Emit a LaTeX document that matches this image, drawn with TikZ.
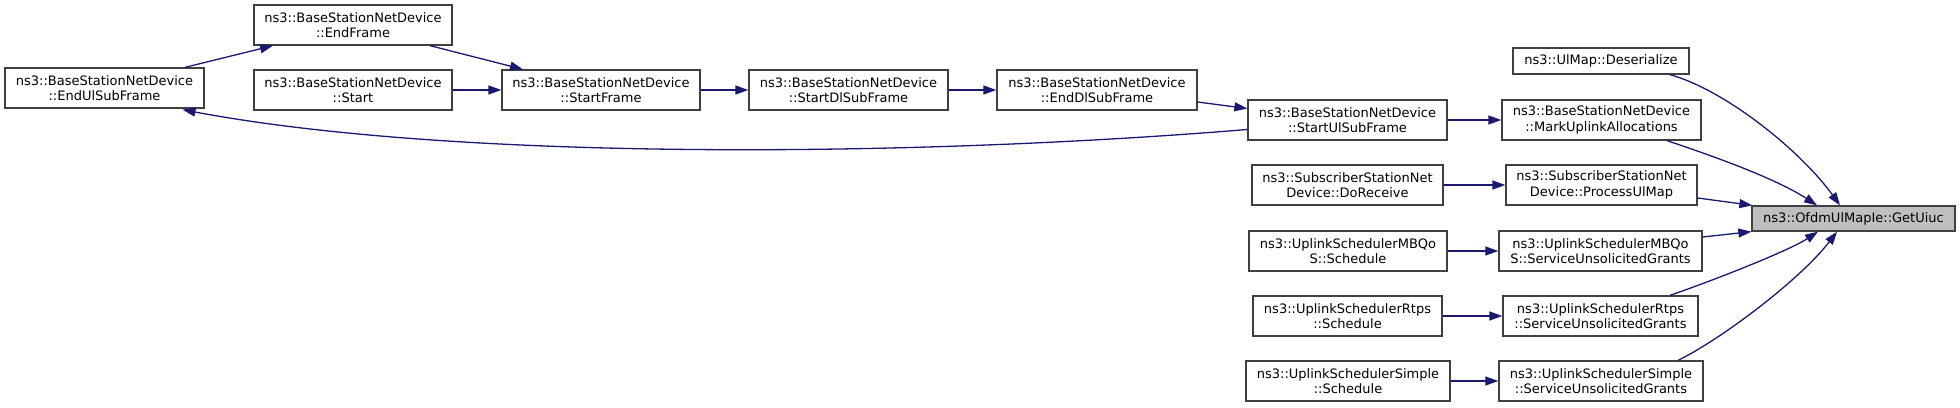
\documentclass[tikz,border=0pt]{standalone}
\usepackage{fontspec}
\setmainfont{DejaVu Sans}
\usetikzlibrary{arrows.meta}
\definecolor{edgec}{HTML}{191970}
\definecolor{boxc}{HTML}{404040}
\definecolor{hlc}{HTML}{BFBFBF}
\begin{document}
\begin{tikzpicture}[x=1pt,y=-1pt,
  fn/.style={draw=boxc,line width=1.3pt,fill=white,align=center,inner sep=0pt,
    minimum height=40pt,font=\fontsize{13}{15.5}\selectfont,text=black},
  fn1/.style={fn,minimum height=26pt},
  hl/.style={fn1,fill=hlc},
  call/.style={draw=edgec,line width=1.3pt,-{Triangle[length=13pt,width=9pt]},fill=none},
]
\useasboundingbox (0,0) rectangle (1960,407);
\node[fn,minimum width=199pt] (eul) at (104.5,88) {ns3::BaseStationNetDevice\\::EndUlSubFrame};
\node[fn,minimum width=198pt] (ef) at (353,25) {ns3::BaseStationNetDevice\\::EndFrame};
\node[fn,minimum width=198pt] (st) at (353,90) {ns3::BaseStationNetDevice\\::Start};
\node[fn,minimum width=198pt] (sf) at (601,90) {ns3::BaseStationNetDevice\\::StartFrame};
\node[fn,minimum width=199pt] (sdl) at (848.5,90) {ns3::BaseStationNetDevice\\::StartDlSubFrame};
\node[fn,minimum width=200pt] (edl) at (1097,90) {ns3::BaseStationNetDevice\\::EndDlSubFrame};
\node[fn,minimum width=199pt] (sul) at (1347.5,120) {ns3::BaseStationNetDevice\\::StartUlSubFrame};
\node[fn1,minimum width=176pt] (des) at (1601,61) {ns3::UlMap::Deserialize};
\node[fn,minimum width=199pt] (mua) at (1601.5,120) {ns3::BaseStationNetDevice\\::MarkUplinkAllocations};
\node[fn,minimum width=191pt] (dor) at (1347.5,185) {ns3::SubscriberStationNet\\Device::DoReceive};
\node[fn,minimum width=191pt] (pum) at (1601.5,185) {ns3::SubscriberStationNet\\Device::ProcessUlMap};
\node[fn,minimum width=198pt] (mbs) at (1348,251) {ns3::UplinkSchedulerMBQo\\S::Schedule};
\node[fn,minimum width=203pt] (mbg) at (1600.5,251) {ns3::UplinkSchedulerMBQo\\S::ServiceUnsolicitedGrants};
\node[fn,minimum width=189pt] (rts) at (1347.5,316) {ns3::UplinkSchedulerRtps\\::Schedule};
\node[fn,minimum width=195pt] (rtg) at (1600.5,316) {ns3::UplinkSchedulerRtps\\::ServiceUnsolicitedGrants};
\node[fn,minimum width=204pt] (sms) at (1348,381) {ns3::UplinkSchedulerSimple\\::Schedule};
\node[fn,minimum width=204pt] (smg) at (1601,381) {ns3::UplinkSchedulerSimple\\::ServiceUnsolicitedGrants};
\node[hl,minimum width=203pt,minimum height=25pt] (get) at (1853.5,218.5) {ns3::OfdmUlMapIe::GetUiuc};

% left chain
\draw[call] ([xshift=80.5pt]eul.north) -- ([xshift=-80pt]ef.south);
\draw[call] ([xshift=77pt]ef.south) -- ([xshift=-78pt]sf.north);
\draw[call] (st) -- (sf);
\draw[call] (sf) -- (sdl);
\draw[call] (sdl) -- (edl);
\draw[call] ([yshift=-12pt]edl.east) -- ([yshift=11.5pt]sul.west);
\draw[call] ([yshift=-9.5pt]sul.west) .. controls (900,158) and (450,160) .. ([xshift=78pt,yshift=-1pt]eul.south);
% middle
\draw[call] (sul) -- (mua);
\draw[call] (dor) -- (pum);
\draw[call] (mbs) -- (mbg);
\draw[call] (rts) -- (rtg);
\draw[call] (sms) -- (smg);
% into GetUiuc
\draw[call] ([xshift=69pt]des.south) .. controls (1725,90) and (1800,150) .. ([xshift=-13.5pt]get.north);
\draw[call] ([xshift=65.5pt]mua.south) .. controls (1710,155) and (1775,178) .. ([xshift=-36.5pt]get.north);
\draw[call] ([yshift=-13pt]pum.east) -- ([xshift=1pt]get.north west);
\draw[call] ([yshift=14pt]mbg.east) -- (get.south west);
\draw[call] ([xshift=69.5pt]rtg.north) .. controls (1720,278) and (1790,250) .. ([xshift=-35.5pt]get.south);
\draw[call] ([xshift=77pt]smg.north) .. controls (1720,340) and (1800,280) .. ([xshift=-16.5pt]get.south);
\end{tikzpicture}
\end{document}
